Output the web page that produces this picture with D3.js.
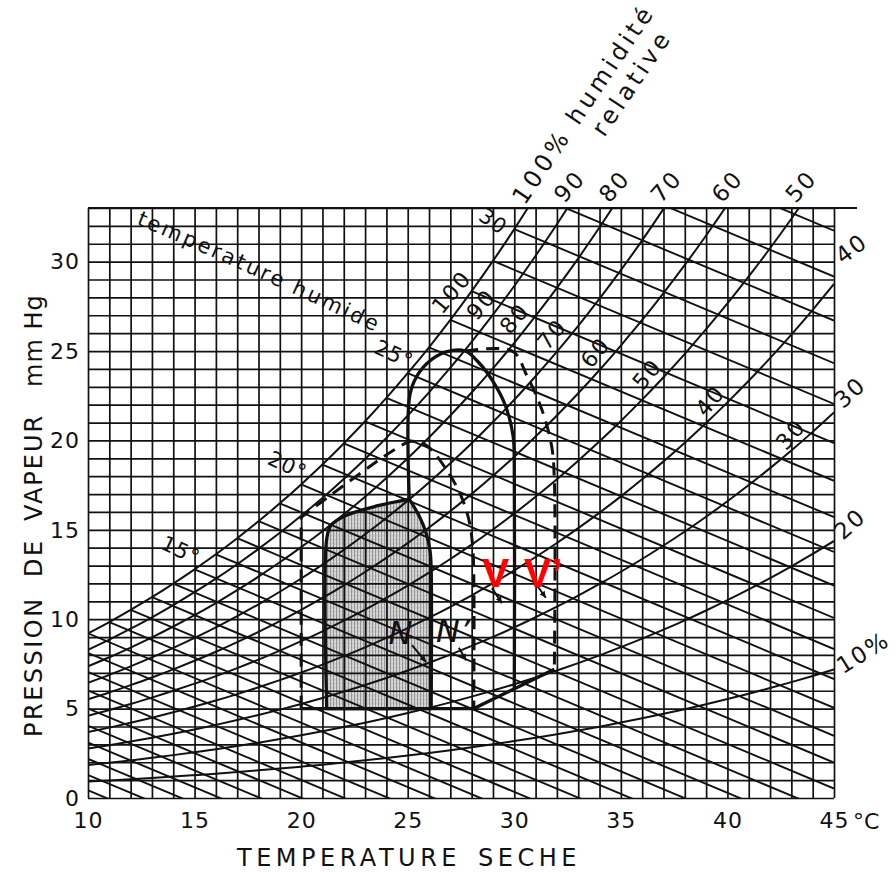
<!DOCTYPE html>
<html><head><meta charset="utf-8">
<script src="https://cdn.jsdelivr.net/npm/d3@7"></script>
<style>body{margin:0;background:#fff}svg{display:block}</style>
</head><body><div id="chart"></div>
<script>
// ---------- data ----------
const satTemp = [0,1,2,3,4,5,6,7,8,9,10,11,12,13,14,15,16,17,18,19,20,21,22,23,24,25,26,27,28,29,30,31,32,33,34,35,36,37,38,39,40,41,42,43,44,45];
const satPressure = [4.58,4.93,5.29,5.69,6.10,6.54,7.01,7.51,8.05,8.61,9.21,9.84,10.52,11.23,11.99,12.79,13.63,14.53,15.48,16.48,17.54,18.65,19.83,21.07,22.38,23.76,25.21,26.74,28.35,30.04,31.82,33.70,35.66,37.73,39.90,42.18,44.56,47.07,49.69,52.44,55.32,58.34,61.50,64.80,68.26,71.88];
const rhLevels = [100,90,80,70,60,50,40,30,20,10];
const wetBulbTemps = [1,2,3,4,5,6,7,8,9,10,11,12,13,14,15,16,17,18,19,20,21,22,23,24,25,26,27,28,29,30,31,32,33];
const wetBulbSlope = 0.5;            // mmHg per °C
const xTicks = [10,15,20,25,30,35,40,45];
const yTicks = [0,5,10,15,20,25,30];
const rhTopLabels = ["90","80","70","60","50"];
const rhTopValues = [90,80,70,60,50];
const rhRightValues = [40,30,20,10];
const rhRightLabels = ["40","30","20","10%"];
const rhInnerValues = [100,90,80,70,60,50,40,30];
const wetBulbLabelValues = [15,20,25,30];
const wetBulbLabelText = ["15°","20°","25°","30"];
const labelWetBulb = 28;
// zones (°C, mmHg); repeated points mark corners
const zoneN = [[21.2,5],[21.2,5],[21.2,14.5],[21.4,15.25],[22.1,15.8],[23.6,16.35],[25.07,16.72],[25.07,16.72],[25.55,15.75],[25.87,14.8],[26.05,13.8],[26.1,12.8],[26.1,5],[26.1,5],[21.2,5],[21.2,5]];
const zoneV = [[25.07,16.72],[25.07,16.72],[25.07,22.3],[25.3,23.3],[25.9,24.3],[26.8,24.95],[27.7,25.0],[28.3,24.4],[29.0,23.3],[29.6,21.9],[29.95,20.2],[30.0,18.5],[30.0,6.1],[30.0,6.1]];
const zoneBase = [[20,5],[28.1,5],[31.88,7.2]];
const zoneNp = [[20,5],[20,5],[20,15.7],[20,15.7],[24.4,19.5],[25.2,19.95],[25.9,19.7],[26.8,18.4],[27.5,16.9],[27.9,15.4],[28.05,14.0],[28.1,12.5],[28.1,5],[28.1,5]];
const zoneVp = [[27.7,25],[27.7,25],[29.9,25],[30.6,23.6],[31.3,21.7],[31.75,19.7],[31.88,17.8],[31.88,7.2],[31.88,7.2]];
const arrows = [[[25.2,8.55],[25.86,7.6]],[[27.4,8.4],[27.74,7.7]],[[28.95,11.74],[29.42,10.9]],[[31.06,11.9],[31.48,11.2]]];
const letterN = [{t:"N",T:24.1,e:8.6},{t:"N’",T:26.33,e:8.75}];
const letterV = [{t:"V",T:28.48,e:11.8},{t:"V’",T:30.45,e:11.8}];

// ---------- scales ----------
const W=895,H=874;
const x = d3.scaleLinear().domain([10,45]).range([88,834]);
const y = d3.scaleLinear().domain([0,33]).range([798,208]);
const es = d3.scaleLinear().domain(satTemp).range(satPressure);
const ink = "#111";
const FONT = "'DejaVu Sans', sans-serif";

const svg = d3.select("#chart").append("svg").attr("width",W).attr("height",H)
  .style("font-family",FONT);
const defs = svg.append("defs");
defs.append("clipPath").attr("id","plot").append("rect")
  .attr("x",x(10)).attr("y",y(33)).attr("width",x(45)-x(10)).attr("height",y(0)-y(33));
const pat = defs.append("pattern").attr("id","stipple").attr("width",3).attr("height",4).attr("patternUnits","userSpaceOnUse");
pat.append("rect").attr("width",3).attr("height",4).attr("fill","#cdcdcd");
pat.append("rect").attr("width",1).attr("height",4).attr("fill","#959595");
pat.append("rect").attr("x",2).attr("y",1).attr("width",1).attr("height",1).attr("fill","#eeeeee");

const shapeLine = d3.line().x(d=>x(d[0])).y(d=>y(d[1])).curve(d3.curveCatmullRom.alpha(0.5));

// shaded zone N
svg.append("path").attr("d",shapeLine(zoneN)+"Z").attr("fill","url(#stipple)");

// grid
const gx = svg.append("g").attr("transform",`translate(0,${y(0)})`)
  .call(d3.axisBottom(x).ticks(35).tickSize(-(y(0)-y(33))).tickFormat(""));
gx.select(".domain").remove();
gx.selectAll("line").attr("stroke",ink).attr("stroke-width",1.7);
const gy = svg.append("g").attr("transform",`translate(${x(10)},0)`)
  .call(d3.axisLeft(y).ticks(33).tickSize(-(x(45)-x(10))).tickFormat(""));
gy.select(".domain").remove();
gy.selectAll("line").attr("stroke",ink).attr("stroke-width",1.7);
svg.append("line").attr("x1",x(10)).attr("x2",x(45)+23).attr("y1",y(33)).attr("y2",y(33))
  .attr("stroke",ink).attr("stroke-width",1.8);

// curves
const plot = svg.append("g").attr("clip-path","url(#plot)");
const curveLine = d3.line().x(d=>x(d[0])).y(d=>y(d[1])).curve(d3.curveMonotoneX);
rhLevels.forEach(rh=>{
  const pts = satTemp.map((t,i)=>[t, satPressure[i]*rh/100]).filter(d=>d[0]>=9);
  plot.append("path").attr("d",curveLine(pts)).attr("fill","none").attr("stroke",ink).attr("stroke-width",2);
});
wetBulbTemps.forEach(tw=>{
  const p0 = es(tw);
  const pts = [[tw,p0],[45,p0-wetBulbSlope*(45-tw)]];
  plot.append("path").attr("d",d3.line().x(d=>x(d[0])).y(d=>y(d[1]))(pts))
    .attr("fill","none").attr("stroke",ink).attr("stroke-width",1.9);
});

// zone outlines
const solid = (pts,closed)=>svg.append("path").attr("d",shapeLine(pts)+(closed?"Z":""))
  .attr("fill","none").attr("stroke",ink).attr("stroke-width",3.3).attr("stroke-linejoin","round");
const dashed = pts=>svg.append("path").attr("d",shapeLine(pts))
  .attr("fill","none").attr("stroke",ink).attr("stroke-width",3).attr("stroke-dasharray","13,8");
solid(zoneN,true);
solid(zoneV,false);
svg.append("path").attr("d",d3.line().x(d=>x(d[0])).y(d=>y(d[1]))(zoneBase))
  .attr("fill","none").attr("stroke",ink).attr("stroke-width",3.3);
dashed(zoneNp);
dashed(zoneVp);

// arrows
arrows.forEach(a=>{
  const x1=x(a[0][0]),y1=y(a[0][1]),x2=x(a[1][0]),y2=y(a[1][1]);
  const ang=Math.atan2(y2-y1,x2-x1);
  svg.append("line").attr("x1",x1).attr("y1",y1).attr("x2",x2).attr("y2",y2).attr("stroke",ink).attr("stroke-width",2);
  const h=7;
  svg.append("path").attr("d",`M${x2},${y2}L${x2-h*Math.cos(ang-0.45)},${y2-h*Math.sin(ang-0.45)}L${x2-h*Math.cos(ang+0.45)},${y2-h*Math.sin(ang+0.45)}Z`).attr("fill",ink);
});
letterN.forEach(d=>svg.append("text").attr("x",x(d.T)).attr("y",y(d.e)).text(d.t)
  .attr("font-size",32).attr("font-style","italic").attr("fill",ink));
letterV.forEach(d=>svg.append("text").attr("x",x(d.T)).attr("y",y(d.e)).text(d.t)
  .attr("font-size",41).attr("font-weight","bold").attr("fill","#ff0000")
  .style("font-family","'Liberation Sans', Arial, sans-serif"));

// axes tick labels
const ax = svg.append("g").attr("transform",`translate(0,${y(0)})`)
  .call(d3.axisBottom(x).tickValues(xTicks).tickSize(0).tickPadding(14));
ax.select(".domain").remove();
ax.selectAll("text").attr("font-size",22).attr("font-family",FONT).attr("fill",ink).attr("letter-spacing",1);
svg.append("text").attr("x",x(45)+19).attr("y",y(0)+31).text("°C").attr("font-size",22).attr("fill",ink);
const ay = svg.append("g").attr("transform",`translate(${x(10)},0)`)
  .call(d3.axisLeft(y).tickValues(yTicks).tickSize(0).tickPadding(8));
ay.select(".domain").remove();
ay.selectAll("text").attr("font-size",22).attr("font-family",FONT).attr("fill",ink).attr("dy","0.33em").attr("letter-spacing",1);

// axis titles
svg.append("text").attr("x",237).attr("y",866).attr("font-size",24).attr("letter-spacing",4.5)
  .attr("word-spacing",5).attr("fill",ink).text("TEMPERATURE SECHE");
[["PRESSION",737,2.5],["DE",577,2.5],["VAPEUR",521,2],["mm Hg",387,1]].forEach(d=>
  svg.append("text").attr("transform",`translate(42,${d[1]}) rotate(-90)`)
  .attr("letter-spacing",d[2]).text(d[0]).attr("font-size",24).attr("fill",ink));

// RH labels at the top
const crossTop = rh => d3.scaleLinear().domain(satPressure.map(v=>v*rh/100)).range(satTemp)(33);
const g100 = svg.append("g").attr("transform",`translate(${x(crossTop(100))-3},${y(33)-2}) rotate(-56)`)
  .attr("font-size",24).attr("fill",ink).attr("letter-spacing",4);
g100.append("text").attr("x",0).attr("y",0).text("100% humidité");
g100.append("text").attr("x",101).attr("y",28).text("relative");
rhTopValues.forEach((rh,i)=>svg.append("text")
  .attr("transform",`translate(${x(crossTop(rh))-3},${y(33)-4}) rotate(-48)`)
  .text(rhTopLabels[i]).attr("font-size",23).attr("letter-spacing",2).attr("fill",ink));
// RH labels at the right edge
const rightRot = [-37,-42,-42,-32], rightDy = [-19,-3,0,5];
rhRightValues.forEach((rh,i)=>svg.append("text")
  .attr("transform",`translate(${x(45)+9},${y(es(45)*rh/100)+rightDy[i]}) rotate(${rightRot[i]})`)
  .text(rhRightLabels[i]).attr("font-size",23).attr("letter-spacing",2).attr("fill",ink));
// RH labels inside, along a wet-bulb line
rhInnerValues.forEach(rh=>{
  let lo=labelWetBulb, hi=45;
  const f=T=>es(T)*rh/100-(es(labelWetBulb)-wetBulbSlope*(T-labelWetBulb));
  for(let k=0;k<40;k++){const m=(lo+hi)/2; if(f(m)<0) lo=m; else hi=m;}
  const T=(lo+hi)/2, e=es(T)*rh/100;
  svg.append("text").attr("transform",`translate(${x(T)-20},${y(e)+1}) rotate(-50)`)
    .attr("text-anchor","middle").attr("dominant-baseline","central")
    .text(String(rh)).attr("font-size",22).attr("letter-spacing",2).attr("fill",ink);
});
// wet-bulb labels
wetBulbLabelValues.forEach((tw,i)=>{
  const last = tw===30;
  svg.append("text").attr("transform",`translate(${x(tw)+(last?-37:-35)},${y(es(tw))+(last?-10:-21)}) rotate(${last?35:25})`)
    .text(wetBulbLabelText[i]).attr("font-size",21).attr("fill",ink).attr("letter-spacing",1);
});
// "temperature humide"
defs.append("path").attr("id","thPath").attr("d","M136,224 Q250,272 392,340");
svg.append("text").attr("font-size",21).attr("fill",ink)
  .append("textPath").attr("href","#thPath").attr("textLength",262).attr("lengthAdjust","spacing")
  .text("temperature humide");
</script></body></html>
